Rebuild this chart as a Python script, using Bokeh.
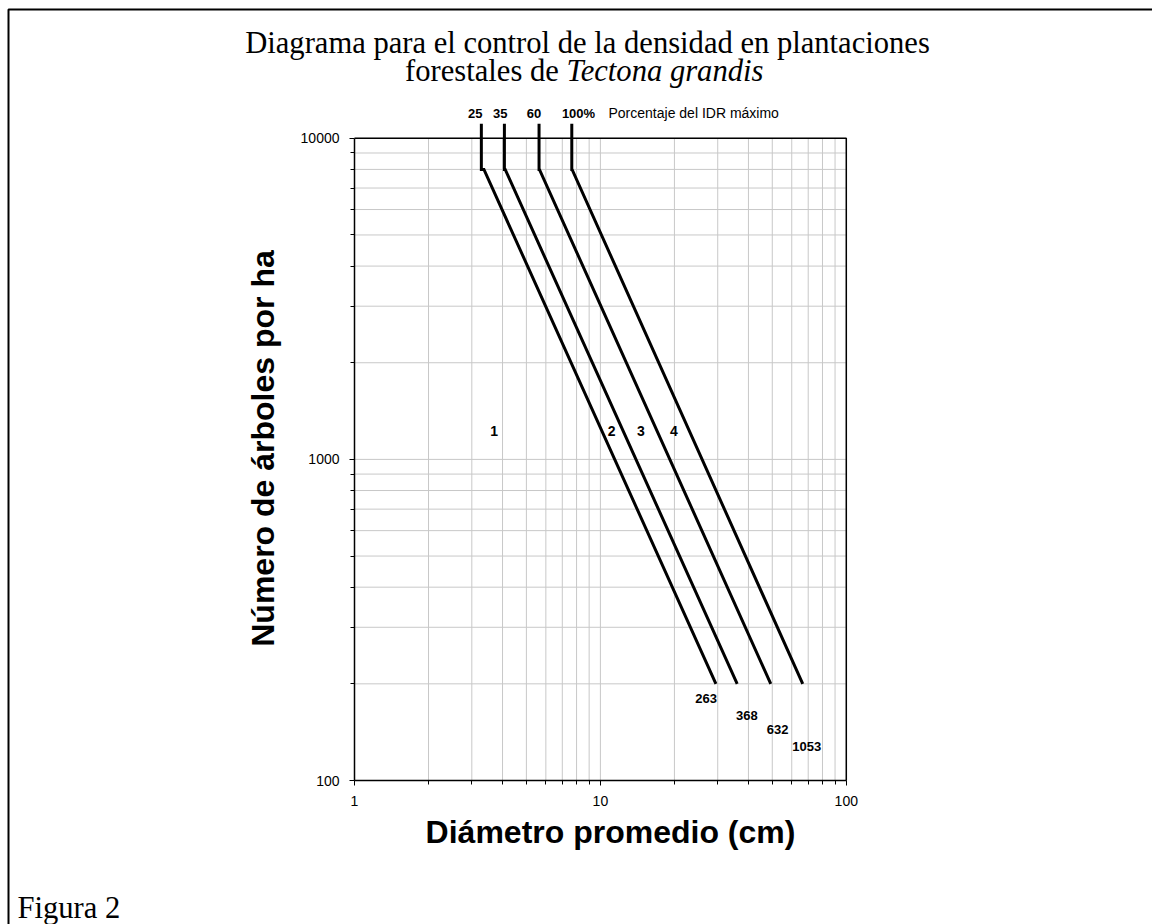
from bokeh.plotting import figure
from bokeh.models import Range1d, FixedTicker, NumeralTickFormatter, Label
from bokeh.core.properties import value
from bokeh.embed import file_html
from bokeh.resources import INLINE

# ---------------- data ----------------
idr_pct_labels = ["25", "35", "60", "100%"]          # % of maximum SDI
idr_values = ["263", "368", "632", "1053"]            # SDI of each line
d_vertical = [3.28, 4.07, 5.63, 7.65]                 # diameter of the vertical start segment
d_at_8000 = [3.36, 4.10, 5.65, 7.67]                  # diameter where each line leaves N=8000
d_at_200 = [29.5, 36.0, 49.3, 66.5]                   # diameter at N=200
n_top = 11100
n_start = 8000
n_end = 200

zone_labels = ["1", "2", "3", "4"]
zone_d = [3.7, 11.1, 14.6, 19.9]
zone_n = [1230, 1230, 1230, 1230]

idr_label_d = [26.9, 39.4, 52.6, 69.0]
idr_label_n = [180, 159, 144, 128]

x_major = [1, 10, 100]
x_minor = [2, 3, 4, 5, 6, 7, 8, 9, 20, 30, 40, 50, 60, 70, 80, 90]
y_major = [100, 1000, 10000]
y_minor = [200, 300, 400, 500, 600, 700, 800, 900,
           2000, 3000, 4000, 5000, 6000, 7000, 8000, 9000]

# ---------------- layout (the frame fills the canvas) ----------------
W, H = 1152, 924
X1_PX = 354.0       # pixel of diameter 1
DEC_X = 245.9       # pixels per decade (x)
Y4_PX = 137.8       # pixel of 10000 trees
DEC_Y = 321.1       # pixels per decade (y)


def dx(px):
    return 10 ** ((px - X1_PX) / DEC_X)


def dy(py):
    return 10 ** (4 - (py - Y4_PX) / DEC_Y)


SANS = "Liberation Sans"
SERIF = "Liberation Serif"

p = figure(x_axis_type="log", y_axis_type="log",
           x_range=Range1d(dx(0), dx(W)), y_range=Range1d(dy(H), dy(0)),
           width=W, height=H,
           min_border_left=0, min_border_right=0, min_border_top=0, min_border_bottom=0,
           output_backend="svg", toolbar_location=None)
p.outline_line_color = None
p.background_fill_color = "white"
p.border_fill_color = "white"
p.xgrid.visible = False
p.ygrid.visible = False

for ax, maj, mnr in ((p.xaxis, x_major, x_minor), (p.yaxis, y_major, y_minor)):
    ax.ticker = FixedTicker(ticks=maj, minor_ticks=mnr)
    ax.formatter = NumeralTickFormatter(format="0")
    ax.axis_line_color = "black"
    ax.axis_line_width = 1.5
    ax.major_tick_line_color = "black"
    ax.minor_tick_line_color = "black"
    ax.major_tick_in = 0
    ax.minor_tick_in = 0
    ax.major_tick_out = 5
    ax.minor_tick_out = 4
    ax.major_label_text_font = SANS
    ax.major_label_text_font_size = "14px"
    ax.major_label_text_color = "black"
p.xaxis.bounds = (x_major[0], x_major[-1])
p.yaxis.bounds = (y_major[0], y_major[-1])
p.xaxis.fixed_location = y_major[0]
p.yaxis.fixed_location = x_major[0]
p.xaxis.major_label_standoff = 10
p.yaxis.major_label_standoff = 10

# grid lines (at tick positions)
gx = x_major + x_minor
gy = y_major + y_minor
p.segment(x0=gx, y0=[y_major[0]] * len(gx), x1=gx, y1=[y_major[-1]] * len(gx),
          line_color="#c8c8c8", line_width=1)
p.segment(x0=[x_major[0]] * len(gy), y0=gy, x1=[x_major[-1]] * len(gy), y1=gy,
          line_color="#c8c8c8", line_width=1)
# top and right frame of the plot area
p.line(x=[x_major[0], x_major[-1], x_major[-1]], y=[y_major[-1], y_major[-1], y_major[0]],
       line_color="black", line_width=1.5)

# density lines
xs = [[dv, dv, ds, de] for dv, ds, de in zip(d_vertical, d_at_8000, d_at_200)]
ys = [[n_top, n_start, n_start, n_end] for _ in d_vertical]
p.multi_line(xs=xs, ys=ys, line_color="black", line_width=3, line_join="miter")

# zone numbers and SDI values
p.text(x=zone_d, y=zone_n, text=zone_labels, text_font=value(SANS),
       text_font_style="bold", text_font_size="14px", text_align="center",
       text_baseline="middle", text_color="black")
p.text(x=idr_label_d, y=idr_label_n, text=idr_values, text_font=value(SANS),
       text_font_style="bold", text_font_size="13px", text_align="center",
       text_baseline="middle", text_color="black")


def plabel(px, py, text, **kw):
    opts = dict(text_color="black", text_baseline="middle", text_align="center")
    opts.update(kw)
    p.add_layout(Label(x=dx(px), y=dy(py), text=text, **opts))


# percentage labels above the plot
pct_x_page = [474.7, 499.7, 533.5, 578.0]
for t, px in zip(idr_pct_labels, pct_x_page):
    plabel(px, 112.7, t, text_font=SANS, text_font_style="bold", text_font_size="13px")
plabel(608, 112.7, "Porcentaje del IDR máximo", text_font=SANS, text_font_size="14px",
       text_align="left")

# titles
plabel(587, 42, "Diagrama para el control de la densidad en plantaciones",
       text_font=SERIF, text_font_size="30.6px")
plabel(566, 70, "forestales de ", text_font=SERIF, text_font_size="30.6px", text_align="right")
plabel(566, 70, "Tectona grandis", text_font=SERIF, text_font_style="italic",
       text_font_size="30.6px", text_align="left")

# axis titles
plabel(262, 448, "Número de árboles por ha", text_font=SANS, text_font_style="bold",
       text_font_size="32px", angle=1.5707963)
plabel(610, 831, "Diámetro promedio (cm)", text_font=SANS, text_font_style="bold",
       text_font_size="32px")

# caption
plabel(17, 907, "Figura 2", text_font=SERIF, text_font_size="30.6px", text_align="left",
       text_baseline="alphabetic")

# outer frame of the figure
p.line(x=[dx(8), dx(8), dx(W + 10)], y=[dy(H + 10), dy(9), dy(9)],
       line_color="black", line_width=2)

open("out.html", "w").write(file_html(p, INLINE))
